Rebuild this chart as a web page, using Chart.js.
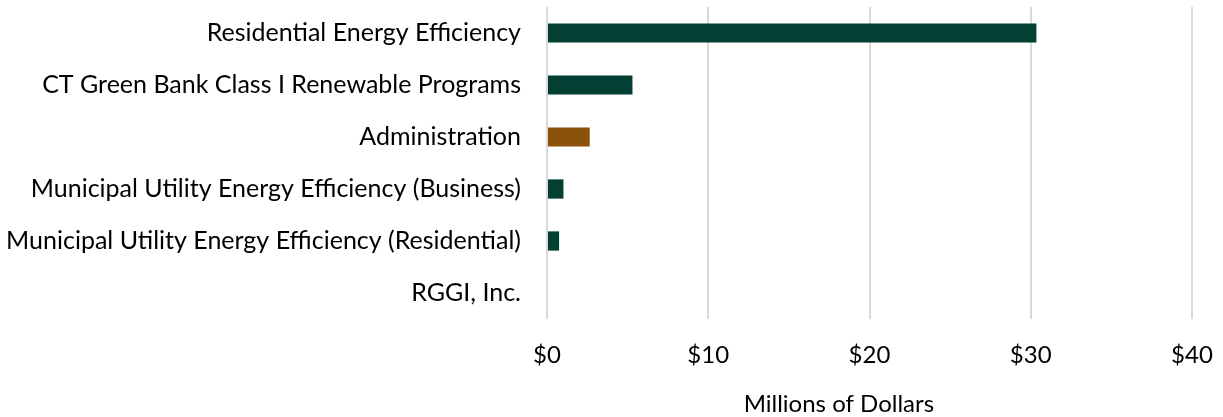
<!DOCTYPE html>
<html>
<head>
<meta charset="utf-8">
<script src="https://cdn.jsdelivr.net/npm/chart.js@4.4.1/dist/chart.umd.min.js"></script>
<style>
  html, body { margin: 0; padding: 0; background: #fff; }
  #wrap { position: relative; width: 1223px; height: 417px; }
</style>
</head>
<body>
<div id="wrap"><canvas id="chart" width="1223" height="417"></canvas></div>
<script>
  // program spending, millions of dollars
  const programs = [
    'Residential Energy Efficiency',
    'CT Green Bank Class I Renewable Programs',
    'Administration',
    'Municipal Utility Energy Efficiency (Business)',
    'Municipal Utility Energy Efficiency (Residential)',
    'RGGI, Inc.'
  ];
  const spending = [30.35, 5.3, 2.65, 1.02, 0.75, 0];
  const xTicks = [0, 10, 20, 30, 40];
  const axisTitle = 'Millions of Dollars';

  const GREEN = '#033f33', BROWN = '#8c520b';
  const barColors = programs.map(p => p === 'Administration' ? BROWN : GREEN);
  const FONT = 'Lato, "Open Sans", sans-serif';

  // axis title sits a bit left of the plot centre, drawn by hand
  const titlePlugin = {
    id: 'xTitle',
    afterDraw(chart){
      const {ctx, scales:{x}} = chart;
      ctx.save();
      ctx.font = '24px ' + FONT;
      ctx.fillStyle = '#000';
      ctx.textAlign = 'center';
      ctx.textBaseline = 'alphabetic';
      ctx.fillText(axisTitle, x.getPixelForValue(18.1), 412);
      ctx.restore();
    }
  };

  new Chart(document.getElementById('chart'), {
    type: 'bar',
    data: {
      labels: programs,
      datasets: [{ data: spending, backgroundColor: barColors, categoryPercentage: 1, barPercentage: 0.37 }]
    },
    options: {
      indexAxis: 'y',
      responsive: false,
      animation: false,
      layout: { padding: { top: 7, right: 31, bottom: 0, left: 0 } },
      plugins: { legend: { display: false }, tooltip: { enabled: false } },
      scales: {
        x: {
          min: 0, max: 40,
          afterBuildTicks: s => { s.ticks = xTicks.map(v => ({value: v})); },
          grid: { color: '#d9d9d9', lineWidth: 2, drawTicks: false },
          border: { display: false },
          ticks: { padding: 22, color: '#000', font: { family: FONT, size: 24 }, callback: v => '$' + v },
          afterFit: s => { s.height = 98; s.paddingLeft = 0; s.paddingRight = 0; }
        },
        y: {
          grid: { display: false, drawTicks: false },
          border: { display: false },
          ticks: { padding: 26, color: '#000', font: { family: FONT, size: 25 } },
          afterFit: s => { s.width = 547; s.paddingTop = 0; s.paddingBottom = 0; }
        }
      }
    },
    plugins: [titlePlugin]
  });
</script>
</body>
</html>
